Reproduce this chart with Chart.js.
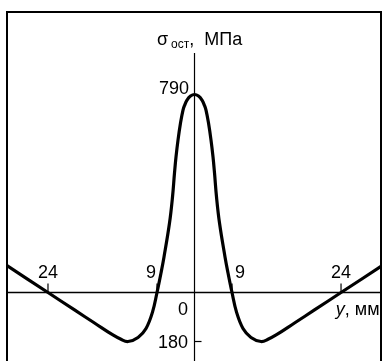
<!DOCTYPE html>
<html>
<head>
<meta charset="utf-8">
<script src="https://cdn.jsdelivr.net/npm/chart.js@4/dist/chart.umd.min.js"></script>
<style>
  html, body { margin: 0; padding: 0; background: #fff; }
  canvas { display: block; }
</style>
</head>
<body>
<canvas id="c" width="382" height="361"></canvas>
<script>
// Residual stress profile across the weld: depth y (mm) vs stress (MPa)
const depthMm = [-29.64, -24, -20.35, -17.6, -15.07, -14.02, -12.99, -11.61, -10.51, -9.62, -9,
  -8.04, -7.32, -6.0, -5.28, -4.8, -4.44, -3.96, -3.36, -2.76, -2.35, -1.8, -0.96, 0,
  0.96, 1.8, 2.35, 2.76, 3.36, 3.96, 4.44, 4.8, 5.28, 6.0, 7.32, 8.04,
  9, 9.62, 10.51, 11.61, 12.99, 14.02, 15.07, 17.6, 20.35, 24, 29.5];
const stressMPa = [107, 0, -64, -112, -156, -171, -180, -165, -132, -72, 0,
  78, 142, 277, 381, 477, 541, 608, 676, 728, 748, 768, 784, 790,
  784, 768, 748, 728, 676, 608, 541, 477, 381, 277, 142, 78,
  0, -72, -132, -165, -180, -171, -156, -112, -64, 0, 104];

const xTickValues = [-24, -9, 9, 24];
const xTickLabels = ['24', '9', '9', '24'];
const yTickValues = [790, -180];
const yTickLabels = ['790', '180'];

// Linear scale with a piecewise-linear (schematic) value-to-position mapping
class WarpScale extends Chart.LinearScale {
  static id = 'warp';
  _warp(v) {
    const k = this.options.knots;
    let i = 0;
    while (i < k.length - 2 && v > k[i + 1][0]) i++;
    const [v0, u0] = k[i], [v1, u1] = k[i + 1];
    return u0 + (v - v0) * (u1 - u0) / (v1 - v0);
  }
  _unwarp(u) {
    const k = this.options.knots;
    let i = 0;
    while (i < k.length - 2 && u > k[i + 1][1]) i++;
    const [v0, u0] = k[i], [v1, u1] = k[i + 1];
    return v0 + (u - u0) * (v1 - v0) / (u1 - u0);
  }
  getPixelForValue(value) {
    const a = this._warp(this.min), b = this._warp(this.max);
    return this.getPixelForDecimal((this._warp(value) - a) / (b - a));
  }
  getValueForPixel(pixel) {
    const a = this._warp(this.min), b = this._warp(this.max);
    return this._unwarp(a + this.getDecimalForPixel(pixel) * (b - a));
  }
}
Chart.register(WarpScale);

const FONT = '"Liberation Sans", Arial, sans-serif';

const axesPlugin = {
  id: 'axesPlugin',
  beforeDatasetsDraw(chart) {
    const { ctx, chartArea: ca, scales: { x: xs, y: ys } } = chart;
    const x0 = xs.getPixelForValue(0), y0 = ys.getPixelForValue(0);
    ctx.save();
    ctx.strokeStyle = '#000';
    // frame
    ctx.lineWidth = 2;
    ctx.beginPath();
    ctx.moveTo(ca.left, ca.bottom + 2);
    ctx.lineTo(ca.left, ca.top);
    ctx.lineTo(ca.right, ca.top);
    ctx.lineTo(ca.right, ca.bottom + 2);
    ctx.stroke();
    // horizontal axis
    ctx.lineWidth = 1.6;
    ctx.beginPath();
    ctx.moveTo(ca.left, y0);
    ctx.lineTo(ca.right, y0);
    ctx.stroke();
    // vertical axis
    ctx.lineWidth = 1.2;
    ctx.beginPath();
    ctx.moveTo(x0, 53);
    ctx.lineTo(x0, ca.bottom);
    ctx.stroke();
    // x ticks
    xTickValues.forEach(v => {
      const px = xs.getPixelForValue(v);
      ctx.beginPath();
      ctx.moveTo(px, y0);
      ctx.lineTo(px, y0 - 9);
      ctx.stroke();
    });
    // y tick for the negative extreme
    const pyNeg = ys.getPixelForValue(-180);
    ctx.beginPath();
    ctx.moveTo(x0, pyNeg);
    ctx.lineTo(x0 + 7, pyNeg);
    ctx.stroke();
    ctx.restore();
  },
  afterDatasetsDraw(chart) {
    const { ctx, chartArea: ca, scales: { x: xs, y: ys } } = chart;
    const x0 = xs.getPixelForValue(0), y0 = ys.getPixelForValue(0);
    ctx.save();
    ctx.fillStyle = '#000';
    ctx.font = '18px ' + FONT;
    ctx.textBaseline = 'alphabetic';

    // x tick labels; inner ones sit outside the curve
    xTickValues.forEach((v, i) => {
      const px = xs.getPixelForValue(v);
      if (Math.abs(v) < 20) {
        ctx.textAlign = v < 0 ? 'right' : 'left';
        ctx.fillText(xTickLabels[i], px + (v < 0 ? -1 : 3), y0 - 14.5);
      } else {
        ctx.textAlign = 'center';
        ctx.fillText(xTickLabels[i], px, y0 - 14.5);
      }
    });

    // y tick labels
    ctx.textAlign = 'right';
    ctx.fillText(yTickLabels[0], x0 - 5.5, ys.getPixelForValue(yTickValues[0]) - 0.5);
    ctx.textBaseline = 'middle';
    ctx.fillText(yTickLabels[1], x0 - 6.5, ys.getPixelForValue(yTickValues[1]) + 1.5);
    ctx.textBaseline = 'alphabetic';

    // origin
    ctx.fillText('0', x0 - 6.5, y0 + 22.5);

    // horizontal axis title: "y, мм"
    const rightEdge = ca.right - 1.5;
    ctx.textAlign = 'left';
    const rest = ', мм';
    const wRest = ctx.measureText(rest).width;
    ctx.font = 'italic 18px ' + FONT;
    const wY = ctx.measureText('y').width;
    const tx = rightEdge - wRest - wY;
    ctx.fillText('y', tx, y0 + 22.5);
    ctx.font = '18px ' + FONT;
    ctx.fillText(rest, tx + wY, y0 + 22.5);

    // vertical axis title: "σ ост, МПа"
    let sx = 157;
    const by = 45;
    ctx.fillText('σ', sx, by);
    sx += ctx.measureText('σ').width + 3;
    ctx.font = '12px ' + FONT;
    ctx.fillText('ост', sx, by + 3);
    sx += ctx.measureText('ост').width;
    ctx.font = '18px ' + FONT;
    ctx.fillText(',', sx, by);
    sx += ctx.measureText(', ').width + 5;
    ctx.fillText('МПа', sx, by);
    ctx.restore();
  }
};

new Chart(document.getElementById('c'), {
  type: 'line',
  data: {
    datasets: [{
      data: depthMm.map((x, i) => ({ x, y: stressMPa[i] })),
      borderColor: '#000',
      borderWidth: 3.2,
      pointRadius: 0,
      fill: false,
      tension: 0.4
    }]
  },
  options: {
    responsive: false,
    animation: false,
    events: [],
    layout: { padding: { left: 7, top: 12, right: 1, bottom: 0 } },
    plugins: { legend: { display: false }, tooltip: { enabled: false } },
    scales: {
      x: {
        type: 'warp', display: false, bounds: 'data',
        min: -29.64, max: 29.5,
        knots: [[-24, -146.5], [-9, -37.5], [0, 0], [9, 37.5], [24, 146.5]]
      },
      y: {
        type: 'warp', display: false, bounds: 'data',
        min: -251.6, max: 1119.2,
        knots: [[-180, -49], [0, 0], [790, 198]]
      }
    }
  },
  plugins: [axesPlugin]
});
</script>
</body>
</html>
